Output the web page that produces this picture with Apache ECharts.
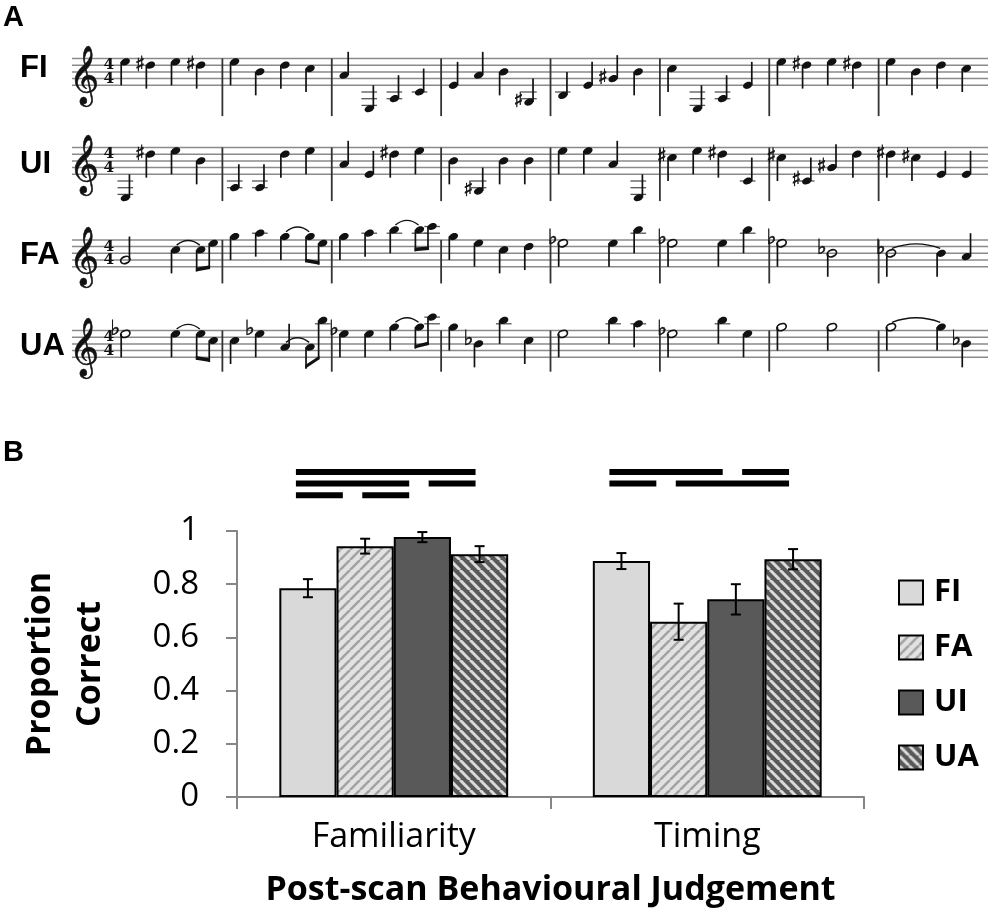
<!DOCTYPE html>
<html>
<head>
<meta charset="utf-8">
<title>Melodies and post-scan judgements</title>
<script src="https://cdn.jsdelivr.net/npm/echarts@6/dist/echarts.min.js"></script>
<style>
  html, body { margin: 0; padding: 0; background: #fff; }
  #chart { width: 997px; height: 924px; }
</style>
</head>
<body>
<div id="chart"></div>
<script>
// ---------- Panel A: the four melodies ----------
// staff step 0 = bottom line (E4), 8 = top line (F5)
// note = [time in beats, staff step, duration, accidental, tied to next, beam (1 start, 2 end)]
const staffNames = ['FI', 'UI', 'FA', 'UA'];
const staffLineSteps = [0, 2, 4, 6, 8];
const barlineTimes = [4, 8, 12, 16, 20, 24, 28];
const timeSignature = ['4', '4'];

const fiNotes = [
  [0, 7], [1, 6, 'q', '#'], [2, 7], [3, 6, 'q', '#'],
  [4, 7], [5, 4], [6, 6], [7, 5],
  [8, 3], [9, -7], [10, -4], [11, -2],
  [12, 0], [13, 3], [14, 4], [15, -5, 'q', '#'],
  [16, -3], [17, 0], [18, 2, 'q', '#'], [19, 4],
  [20, 5], [21, -7], [22, -4], [23, 0],
  [24, 7], [25, 6, 'q', '#'], [26, 7], [27, 6, 'q', '#'],
  [28, 7], [29, 4], [30, 6], [31, 5]
];
const uiNotes = [
  [0, -7], [1, 6, 'q', '#'], [2, 7], [3, 4],
  [4, -4], [5, -4], [6, 6], [7, 7],
  [8, 3], [9, 0], [10, 6, 'q', '#'], [11, 7],
  [12, 4], [13, -5, 'q', '#'], [14, 4], [15, 4],
  [16, 7], [17, 7], [18, 3], [19, -7],
  [20, 5, 'q', '#'], [21, 7], [22, 6, 'q', '#'], [23, -2],
  [24, 5, 'q', '#'], [25, -2, 'q', '#'], [26, 2, 'q', '#'], [27, 6],
  [28, 6, 'q', '#'], [29, 5, 'q', '#'], [30, 0], [31, 0]
];
const faNotes = [
  [0, 2, 'h'], [2, 5, 'q', '', 1], [3, 5, 'e', '', 0, 1], [3.5, 7, 'e', '', 0, 2],
  [4, 9], [5, 10], [6, 9, 'q', '', 1], [7, 9, 'e', '', 0, 1], [7.5, 7, 'e', '', 0, 2],
  [8, 9], [9, 10], [10, 11, 'q', '', 1], [11, 11, 'e', '', 0, 1], [11.5, 12, 'e', '', 0, 2],
  [12, 9], [13, 7], [14, 5], [15, 6],
  [16, 7, 'h', 'b'], [18, 7], [19, 11],
  [20, 7, 'h', 'b'], [22, 7], [23, 11],
  [24, 7, 'h', 'b'], [26, 4, 'h', 'b'],
  [28, 4, 'h', 'b', 1], [30, 4], [31, 3]
];
const uaNotes = [
  [0, 7, 'h', 'b'], [2, 7, 'q', '', 1], [3, 7, 'e', '', 0, 1], [3.5, 5, 'e', '', 0, 2],
  [4, 5], [5, 7, 'q', 'b'], [6, 3, 'q', '', 1], [7, 3, 'e', '', 0, 1], [7.5, 11, 'e', '', 0, 2],
  [8, 7, 'q', 'b'], [9, 7], [10, 9, 'q', '', 1], [11, 9, 'e', '', 0, 1], [11.5, 12, 'e', '', 0, 2],
  [12, 9], [13, 4, 'q', 'b'], [14, 11], [15, 5],
  [16, 7, 'h'], [18, 11], [19, 10],
  [20, 7, 'h', 'b'], [22, 11], [23, 7],
  [24, 9, 'h'], [26, 9, 'h'],
  [28, 9, 'h', '', 1], [30, 9], [31, 4, 'q', 'b']
];

// ---------- Panel B: proportion correct ----------
const judgementTypes = ['Familiarity', 'Timing'];
const conditionNames = ['FI', 'FA', 'UI', 'UA'];
const fiMeans = [0.785, 0.887];
const faMeans = [0.943, 0.659];
const uiMeans = [0.977, 0.743];
const uaMeans = [0.913, 0.894];
const fiErrors = [0.034, 0.030];
const faErrors = [0.028, 0.068];
const uiErrors = [0.019, 0.057];
const uaErrors = [0.030, 0.038];
// significance lines: [judgement, from condition, to condition, row from top]
const sigLines = [
  [0, 0, 3, 0], [0, 0, 2, 1], [0, 2, 3, 1], [0, 0, 1, 2], [0, 1, 2, 2],
  [1, 0, 2, 0], [1, 2, 3, 0], [1, 0, 1, 1], [1, 1, 3, 1]
];

const chart = echarts.init(document.getElementById('chart'), null, { renderer: 'canvas' });

const X_MIN = -1.5, X_MAX = 32;
const staffTops = [38.4, 127.4, 219.8, 310.4];
const staffBarBottoms = [-9.2, -8, -5, -4.3];
const staffLabelY = [68, 164, 255, 346];
const allNotes = [fiNotes, uiNotes, faNotes, uaNotes];
const INK = '#111';
const SANS = '"Open Sans", "Noto Sans", sans-serif';

function layoutX(t) {
  const m = Math.floor(t / 4);
  return m * 4 + 0.45 + (t - m * 4) * 0.92;
}

function beamEnds(api, a, b, sp) {
  const pa = api.coord([layoutX(a[0]), a[1]]);
  const pb = api.coord([layoutX(b[0]), b[1]]);
  const lowest = Math.max(pa[1], pb[1]);
  const base = lowest + 3.2 * sp;
  return [base - (lowest - pa[1]) * 0.35, base - (lowest - pb[1]) * 0.35];
}

function makeNoteRenderer(notes) {
  return function (params, api) {
    const i = params.dataIndex;
    const n = notes[i];
    const dur = n[2] || 'q';
    const acc = n[3] || '';
    const tie = n[4];
    const beam = n[5];
    const p = api.coord([layoutX(n[0]), n[1]]);
    const sp = api.size([0, 2])[1];
    const rx = 0.72 * sp, ry = 0.5 * sp;
    const cx = p[0], cy = p[1];
    const kids = [];

    const ledgers = [];
    if (n[1] <= -2) for (let l = -2; l >= n[1]; l -= 2) ledgers.push(l);
    if (n[1] >= 10) for (let l = 10; l <= n[1]; l += 2) ledgers.push(l);
    ledgers.forEach((l) => {
      const ly = api.coord([0, l])[1];
      kids.push({
        type: 'line',
        shape: { x1: cx - rx - 3, y1: ly, x2: cx + rx + 3, y2: ly },
        style: { stroke: '#555', lineWidth: 1.3 }
      });
    });

    kids.push({
      type: 'ellipse',
      shape: { cx: cx, cy: cy, rx: rx, ry: ry },
      rotation: 0.38, originX: cx, originY: cy,
      style: dur === 'h' ? { fill: 'none', stroke: INK, lineWidth: 1.7 } : { fill: INK }
    });

    let up = n[1] < 4;
    if (beam) up = false;
    let stemEnd;
    if (beam) {
      const pair = beam === 1 ? [n, notes[i + 1]] : [notes[i - 1], n];
      stemEnd = beamEnds(api, pair[0], pair[1], sp)[beam - 1];
    } else {
      stemEnd = up ? cy - 3.5 * sp : cy + 3.5 * sp;
    }
    const sx = up ? cx + rx - 0.7 : cx - rx + 0.7;
    kids.push({
      type: 'line',
      shape: { x1: sx, y1: cy, x2: sx, y2: stemEnd },
      style: { stroke: INK, lineWidth: 1.7 }
    });

    if (beam === 1) {
      const m = notes[i + 1];
      const q = api.coord([layoutX(m[0]), m[1]]);
      const ends = beamEnds(api, n, m, sp);
      const qx = q[0] - rx + 0.7;
      const t = 0.55 * sp;
      kids.push({
        type: 'polygon',
        shape: { points: [[sx - 0.8, ends[0]], [qx + 0.8, ends[1]], [qx + 0.8, ends[1] - t], [sx - 0.8, ends[0] - t]] },
        style: { fill: INK }
      });
    }

    if (acc) {
      const sharp = acc === '#';
      kids.push({
        type: 'text',
        x: cx - rx - 0.5,
        y: sharp ? cy : cy - 0.7 * sp,
        style: {
          text: sharp ? '\u266F' : '\u266D',
          fontSize: 3.1 * sp,
          fontFamily: 'DejaVu Sans',
          fill: INK, stroke: INK, lineWidth: 0.5,
          align: 'right', verticalAlign: 'middle'
        }
      });
    }

    if (tie && notes[i + 1]) {
      const m = notes[i + 1];
      const q = api.coord([layoutX(m[0]), m[1]]);
      const top = Math.min(cy, q[1]) - ry;
      kids.push({
        type: 'bezierCurve',
        shape: {
          x1: cx + 1, y1: cy - ry - 1.5, x2: q[0] - 1, y2: q[1] - ry - 1.5,
          cpx1: (cx + q[0]) / 2, cpy1: top - 1.6 * sp
        },
        style: { fill: 'none', stroke: INK, lineWidth: 1.4 }
      });
    }
    return { type: 'group', children: kids };
  };
}

function renderStaffLine(params, api) {
  const a = api.coord([X_MIN, api.value(1)]);
  const b = api.coord([X_MAX, api.value(1)]);
  return {
    type: 'line',
    shape: { x1: a[0], y1: a[1], x2: b[0], y2: b[1] },
    style: { stroke: '#8a8a8a', lineWidth: 1.5 }
  };
}

function makeBarlineRenderer(bottomStep) {
  return function (params, api) {
    const a = api.coord([api.value(0), 8]);
    const b = api.coord([api.value(0), bottomStep]);
    return {
      type: 'line',
      shape: { x1: a[0], y1: a[1], x2: b[0], y2: b[1] },
      style: { stroke: '#333', lineWidth: 1.8 }
    };
  };
}

function renderClef(params, api) {
  const g = api.coord([-1.06, 2]);
  const sp = api.size([0, 2])[1];
  const kids = [{
    type: 'text', x: g[0], y: g[1],
    style: {
      text: '\uD834\uDD1E', fontSize: 7.6 * sp, fontFamily: 'DejaVu Sans',
      fill: INK, stroke: INK, lineWidth: 0.6, align: 'center', verticalAlign: 'middle'
    }
  }];
  [6, 2].forEach((step, k) => {
    const q = api.coord([-0.15, step]);
    kids.push({
      type: 'text', x: q[0], y: q[1],
      style: { text: timeSignature[k], fontSize: 2.3 * sp, fontWeight: 'bold', fontFamily: 'DejaVu Serif', fill: INK, align: 'center', verticalAlign: 'middle' }
    });
  });
  return { type: 'group', children: kids };
}

// stripe fills for the bars
function stripeFill(bg, fg, period, width, dir) {
  const c = document.createElement('canvas');
  c.width = period; c.height = period;
  const ctx = c.getContext('2d');
  ctx.fillStyle = bg;
  ctx.fillRect(0, 0, period, period);
  ctx.strokeStyle = fg;
  ctx.lineWidth = width;
  ctx.beginPath();
  for (let k = -1; k <= 1; k++) {
    if (dir === '/') { ctx.moveTo(k * period, period); ctx.lineTo(k * period + period, 0); }
    else { ctx.moveTo(k * period, 0); ctx.lineTo(k * period + period, period); }
  }
  ctx.stroke();
  return { image: c, repeat: 'repeat' };
}

const condFills = [
  '#d9d9d9',
  stripeFill('#e2e2e2', '#a3a3a3', 10, 2.6, '/'),
  '#595959',
  stripeFill('#595959', '#dadada', 10, 3.0, '\\')
];
const condMeans = [fiMeans, faMeans, uiMeans, uaMeans];
const condErrors = [fiErrors, faErrors, uiErrors, uaErrors];
const CAT_GAP = 0.27;

function barCenter(api, cat, cond, value) {
  const band = api.size([1, 0])[0];
  const bw = band * (1 - CAT_GAP) / conditionNames.length;
  const c = api.coord([cat, value]);
  return { x: c[0] + (cond - (conditionNames.length - 1) / 2) * bw, y: c[1], bw: bw, first: c[0] - 1.5 * bw };
}

function renderErrorBar(params, api) {
  const cat = api.value(0), cond = api.value(1), mean = api.value(2), err = api.value(3);
  const hi = barCenter(api, cat, cond, mean + err);
  const lo = barCenter(api, cat, cond, mean - err);
  const x = hi.x, w = 5;
  return {
    type: 'group',
    children: [
      { type: 'line', shape: { x1: x, y1: hi.y, x2: x, y2: lo.y }, style: { stroke: '#000', lineWidth: 2 } },
      { type: 'line', shape: { x1: x - w, y1: hi.y, x2: x + w, y2: hi.y }, style: { stroke: '#000', lineWidth: 2 } },
      { type: 'line', shape: { x1: x - w, y1: lo.y, x2: x + w, y2: lo.y }, style: { stroke: '#000', lineWidth: 2 } }
    ]
  };
}

// the hand-drawn comparison lines are spaced a little wider than the bars
function renderSigLine(params, api) {
  const cat = api.value(0), from = api.value(1), to = api.value(2), row = api.value(3);
  const a = barCenter(api, cat, 0, 1);
  const x1 = a.first + (from * 1.16 - 0.21) * a.bw;
  const x2 = a.first + (to * 1.16 - 0.55) * a.bw;
  const y = a.y - 62 + row * 11.6;
  return { type: 'rect', shape: { x: x1, y: y, width: x2 - x1, height: 6 }, style: { fill: '#000' } };
}

const grids = [];
const xAxes = [];
const yAxes = [];
const series = [];
const graphics = [
  { type: 'text', x: 3, y: 17.5, style: { text: 'A', font: 'bold 29px "Liberation Sans", Arial', fill: '#000', verticalAlign: 'middle' } },
  { type: 'text', x: 3, y: 452.5, style: { text: 'B', font: 'bold 29px "Liberation Sans", Arial', fill: '#000', verticalAlign: 'middle' } }
];

staffNames.forEach((name, k) => {
  grids.push({ left: 72, right: 9, top: staffTops[k], height: 87.1, containLabel: false, outerBoundsMode: 'none' });
  xAxes.push({ type: 'value', gridIndex: k, min: X_MIN, max: X_MAX, show: false });
  yAxes.push({ type: 'value', gridIndex: k, min: -12, max: 14, show: false });
  const common = { type: 'custom', coordinateSystem: 'cartesian2d', xAxisIndex: k, yAxisIndex: k, silent: true, clip: false };
  series.push(Object.assign({}, common, { renderItem: renderStaffLine, data: staffLineSteps.map((s) => [0, s]) }));
  series.push(Object.assign({}, common, { renderItem: makeBarlineRenderer(staffBarBottoms[k]), data: barlineTimes.map((t) => [t, 8]) }));
  series.push(Object.assign({}, common, { renderItem: renderClef, data: [[-1.06, 2]] }));
  series.push(Object.assign({}, common, { renderItem: makeNoteRenderer(allNotes[k]), data: allNotes[k].map((n) => [layoutX(n[0]), n[1]]) }));
  graphics.push({ type: 'text', x: 20, y: staffLabelY[k], style: { text: name, font: 'bold 31px "Liberation Sans", Arial', fill: '#000', verticalAlign: 'middle' } });
});

// bar chart grid
const B = staffNames.length;
grids.push({ left: 237, right: 133, top: 531, bottom: 127, containLabel: false, outerBoundsMode: 'none' });
xAxes.push({
  type: 'category', gridIndex: B, data: judgementTypes,
  axisLine: { show: true, lineStyle: { color: '#868686', width: 2 } },
  axisTick: { show: true, length: 12, lineStyle: { color: '#868686', width: 2 } },
  axisLabel: { fontSize: 34, color: '#000', fontFamily: SANS, margin: 23 },
  name: 'Post-scan Behavioural Judgement', nameLocation: 'middle', nameGap: 76,
  nameTextStyle: { fontSize: 34, fontWeight: 'bold', color: '#000', fontFamily: SANS }
});
yAxes.push({
  type: 'value', gridIndex: B, min: 0, max: 1, interval: 0.2,
  axisLine: { show: true, lineStyle: { color: '#868686', width: 2 } },
  axisTick: { show: true, length: 11, lineStyle: { color: '#868686', width: 2 } },
  splitLine: { show: false },
  axisLabel: { fontSize: 33, color: '#000', fontFamily: SANS, margin: 38 },
  name: 'Proportion\nCorrect', nameLocation: 'middle', nameRotate: 90, nameGap: 122,
  nameTextStyle: { fontSize: 34, fontWeight: 'bold', color: '#000', fontFamily: SANS, lineHeight: 50 }
});

conditionNames.forEach((name, k) => {
  series.push({
    type: 'bar', name: name, xAxisIndex: B, yAxisIndex: B,
    data: condMeans[k], barGap: '0%', barCategoryGap: (CAT_GAP * 100) + '%',
    itemStyle: { color: condFills[k], borderColor: '#000', borderWidth: 2 },
    emphasis: { disabled: true }
  });
});

const errorData = [];
judgementTypes.forEach((j, c) => {
  conditionNames.forEach((name, k) => errorData.push([c, k, condMeans[k][c], condErrors[k][c]]));
});
series.push({ type: 'custom', xAxisIndex: B, yAxisIndex: B, renderItem: renderErrorBar, data: errorData, silent: true, clip: false, z: 5 });
series.push({ type: 'custom', xAxisIndex: B, yAxisIndex: B, renderItem: renderSigLine, data: sigLines, silent: true, clip: false, z: 5 });

chart.setOption({
  animation: false,
  backgroundColor: '#fff',
  grid: grids,
  xAxis: xAxes,
  yAxis: yAxes,
  legend: {
    data: conditionNames, orient: 'vertical', left: 893, top: 572,
    itemWidth: 24, itemHeight: 24, itemGap: 24, icon: 'rect',
    itemStyle: { borderColor: '#000', borderWidth: 2 },
    textStyle: { fontSize: 31, fontWeight: 'bold', color: '#000', fontFamily: SANS, lineHeight: 24, padding: [0, 0, 0, 6] },
    selectedMode: false
  },
  graphic: graphics,
  series: series
});
</script>
</body>
</html>
